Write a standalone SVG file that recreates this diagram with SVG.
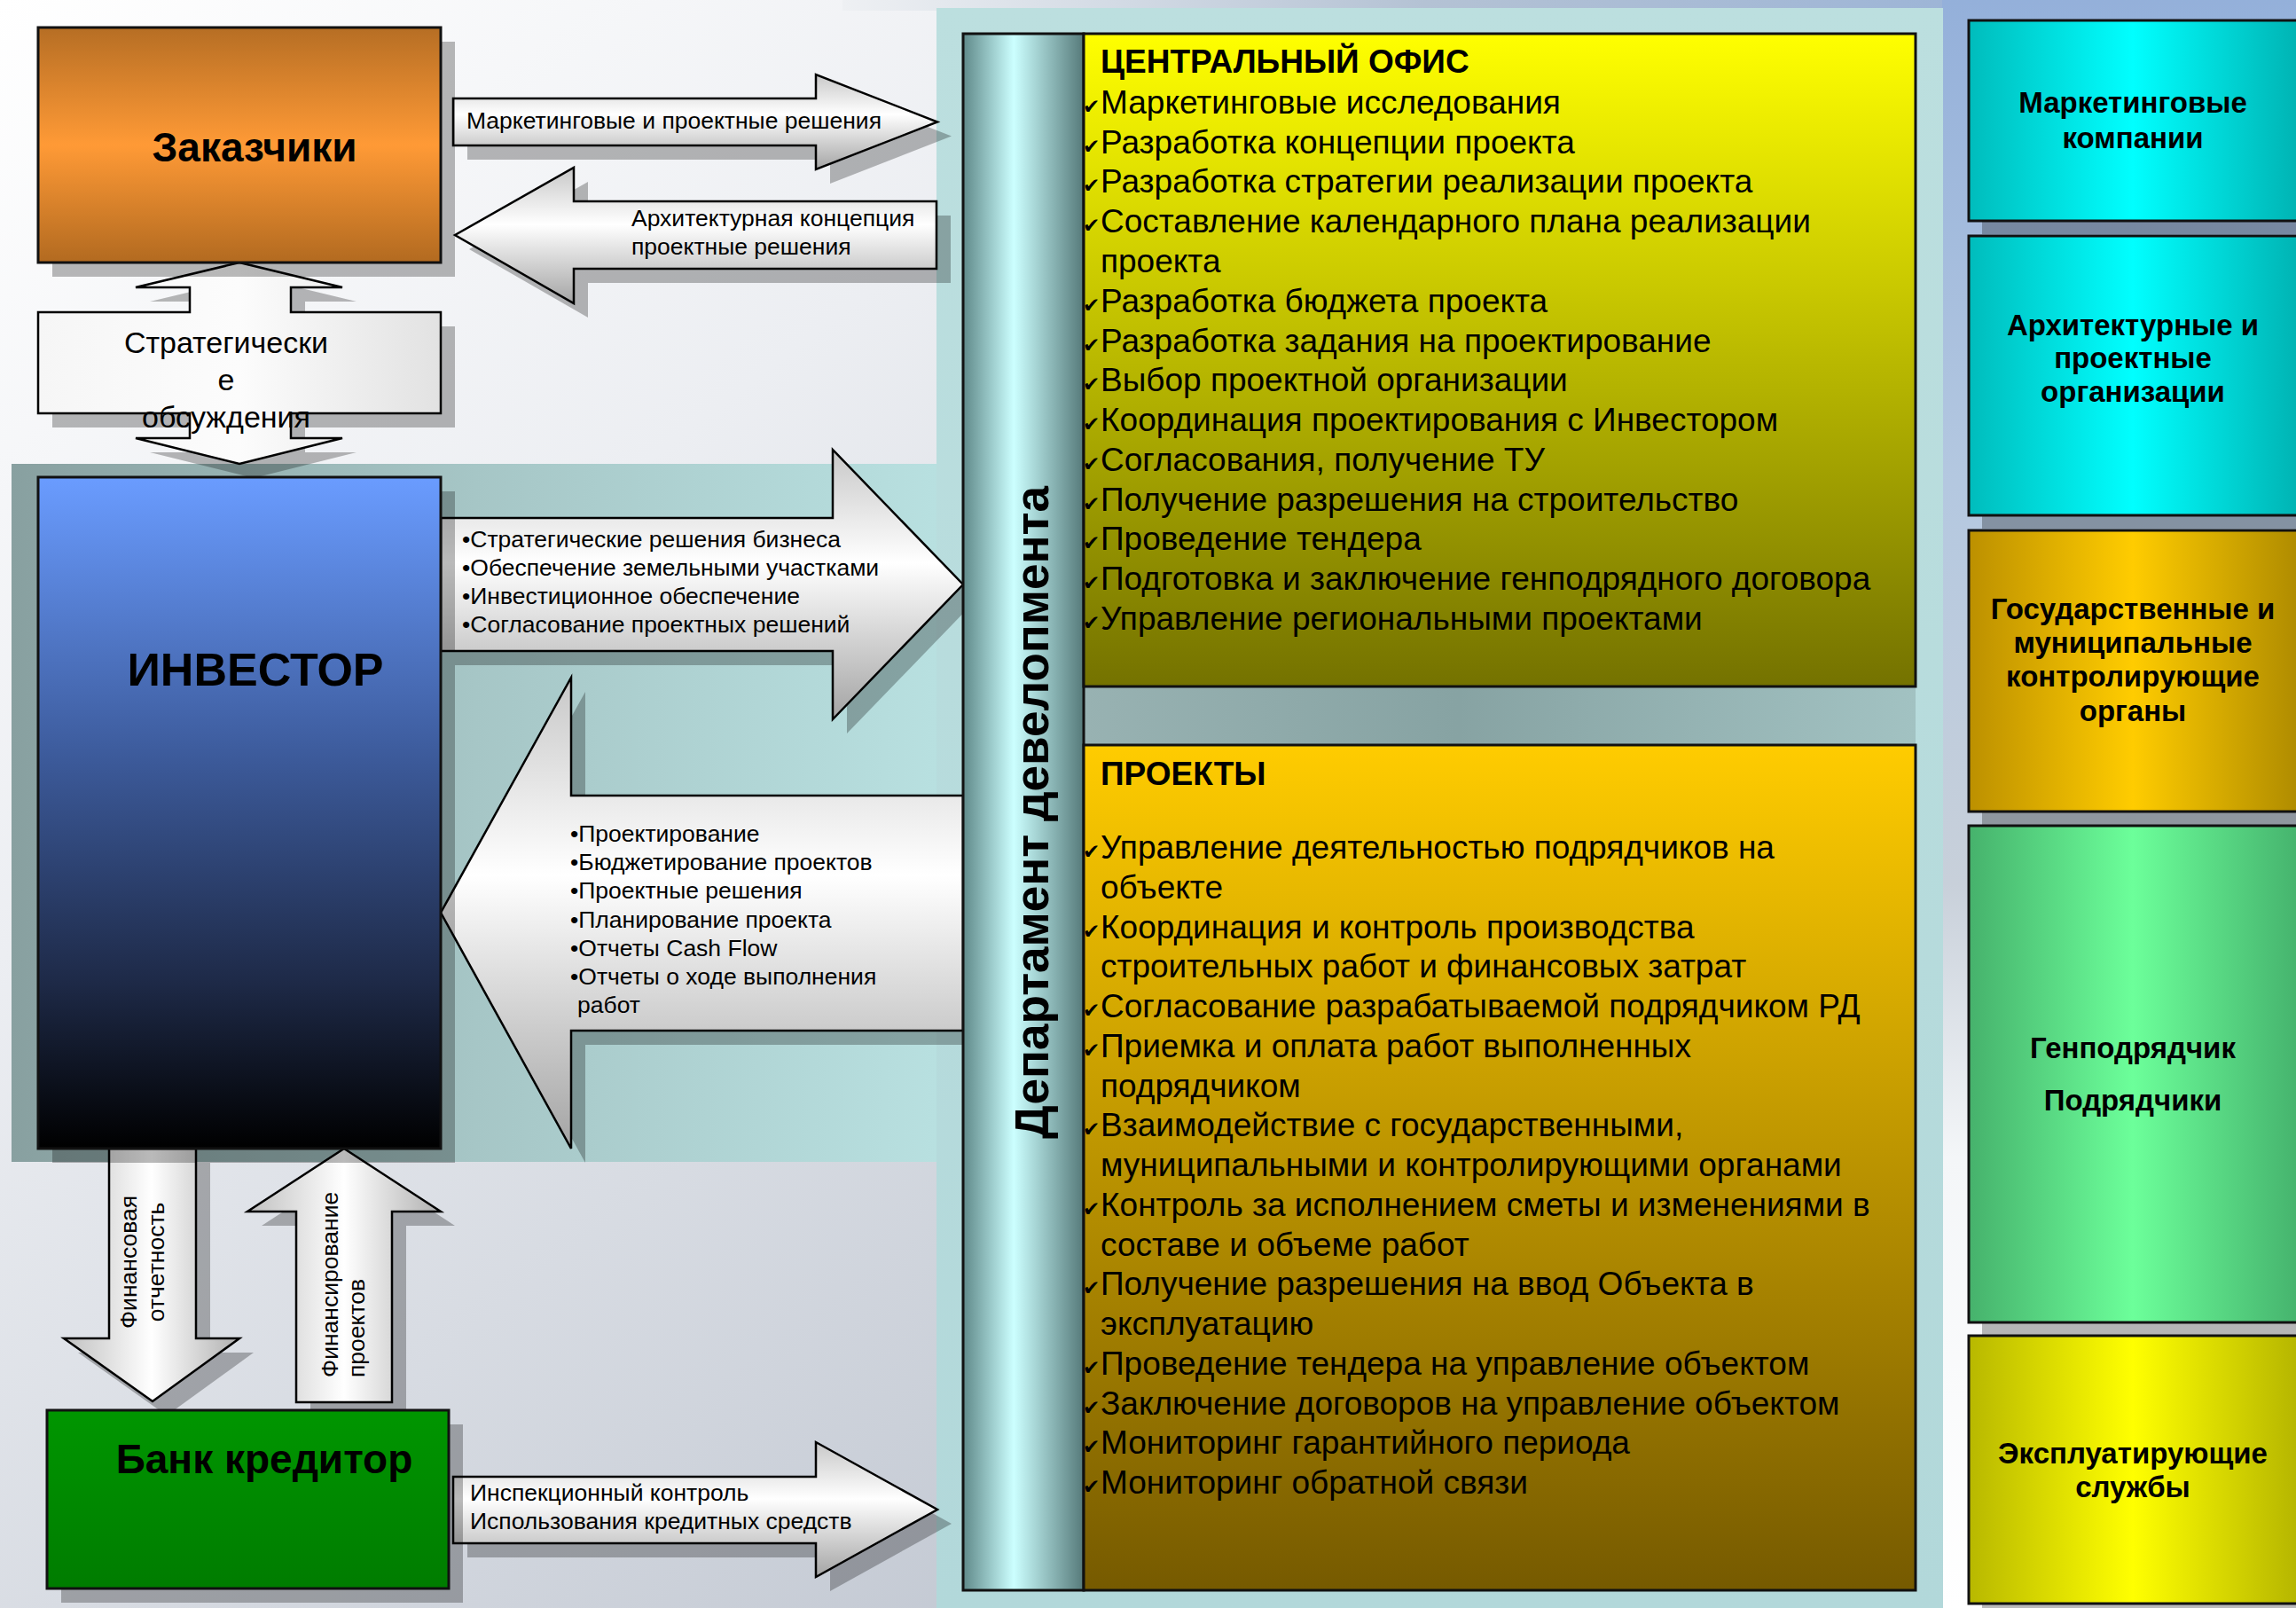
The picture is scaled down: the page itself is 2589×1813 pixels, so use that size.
<svg xmlns="http://www.w3.org/2000/svg" width="2589" height="1813" viewBox="0 0 2589 1813">
<defs>
<style>
text{font-family:"Liberation Sans",Arial,sans-serif;fill:#000}
.lbl{font-size:26.5px}
.item{font-size:37px}
.hdr{font-size:37px;font-weight:bold}
.rb{font-size:33px;font-weight:bold;text-anchor:middle}
.chk{font-family:"DejaVu Sans",sans-serif;font-size:23px}
.sh{fill:#000;opacity:0.27}
.ar{stroke:#000;stroke-width:2.5;stroke-linejoin:miter}
.bx{stroke:#111;stroke-width:3}
.big{font-weight:bold;text-anchor:middle}
</style>
<linearGradient id="gBg" gradientUnits="userSpaceOnUse" x1="0" y1="0" x2="1300" y2="1700">
<stop offset="0" stop-color="#ffffff"/><stop offset="0.4" stop-color="#eceef2"/><stop offset="1" stop-color="#c3c9d3"/>
</linearGradient>
<linearGradient id="gRight" x1="0" y1="0" x2="0" y2="1">
<stop offset="0" stop-color="#94b0da"/><stop offset="0.3" stop-color="#b4c8e0"/><stop offset="0.55" stop-color="#c8d0da"/><stop offset="0.72" stop-color="#f4f6f8"/><stop offset="1" stop-color="#ffffff"/>
</linearGradient>
<linearGradient id="gTop" x1="0" y1="0" x2="1" y2="0">
<stop offset="0" stop-color="#eef0f3"/><stop offset="0.4" stop-color="#b4c2d4"/><stop offset="1" stop-color="#8eacd8"/>
</linearGradient>
<linearGradient id="gBand" x1="0" y1="0" x2="1" y2="0">
<stop offset="0" stop-color="#88a0a0"/><stop offset="0.5" stop-color="#a6c6c6"/><stop offset="1" stop-color="#b8e0e0"/>
</linearGradient>
<linearGradient id="gPanel" x1="0" y1="0" x2="0" y2="1">
<stop offset="0" stop-color="#bcdfdf"/><stop offset="1" stop-color="#b2d8da"/>
</linearGradient>
<linearGradient id="gGap" x1="0" y1="0" x2="1" y2="0">
<stop offset="0" stop-color="#98b2b2"/><stop offset="0.45" stop-color="#87a3a3"/><stop offset="1" stop-color="#a2c2c2"/>
</linearGradient>
<linearGradient id="gBar" x1="0" y1="0" x2="1" y2="0">
<stop offset="0" stop-color="#5f8989"/><stop offset="0.42" stop-color="#ccffff"/><stop offset="1" stop-color="#567a7a"/>
</linearGradient>
<linearGradient id="gOffice" x1="0" y1="0" x2="0" y2="1">
<stop offset="0" stop-color="#ffff00"/><stop offset="1" stop-color="#747200"/>
</linearGradient>
<linearGradient id="gProj" x1="0" y1="0" x2="0" y2="1">
<stop offset="0" stop-color="#ffcc00"/><stop offset="1" stop-color="#765a00"/>
</linearGradient>
<linearGradient id="gOrange" x1="0" y1="0" x2="0" y2="1">
<stop offset="0" stop-color="#b66e24"/><stop offset="0.5" stop-color="#ff9a36"/><stop offset="1" stop-color="#b26a20"/>
</linearGradient>
<linearGradient id="gInv" x1="0" y1="0" x2="0" y2="1">
<stop offset="0" stop-color="#6a9cff"/><stop offset="0.42" stop-color="#3c5a9a"/><stop offset="0.75" stop-color="#1e2a48"/><stop offset="1" stop-color="#000000"/>
</linearGradient>
<linearGradient id="gBank" x1="0" y1="0" x2="0" y2="1">
<stop offset="0" stop-color="#009600"/><stop offset="1" stop-color="#007c00"/>
</linearGradient>
<linearGradient id="gArH" x1="0" y1="0" x2="0" y2="1">
<stop offset="0" stop-color="#c8c8c8"/><stop offset="0.42" stop-color="#ffffff"/><stop offset="1" stop-color="#a4a4a4"/>
</linearGradient>
<linearGradient id="gArV" x1="0" y1="0" x2="1" y2="0">
<stop offset="0" stop-color="#c0c0c0"/><stop offset="0.5" stop-color="#ffffff"/><stop offset="1" stop-color="#b0b0b0"/>
</linearGradient>
<linearGradient id="gStrat" x1="0" y1="0" x2="1" y2="0">
<stop offset="0" stop-color="#f6f6f6"/><stop offset="0.5" stop-color="#fcfcfc"/><stop offset="1" stop-color="#e2e2e2"/>
</linearGradient>
<linearGradient id="gCyan" gradientUnits="userSpaceOnUse" x1="2220" y1="0" x2="2590" y2="0">
<stop offset="0" stop-color="#00bcbc"/><stop offset="0.5" stop-color="#00ffff"/><stop offset="1" stop-color="#00b4b4"/>
</linearGradient>
<linearGradient id="gGoldR" gradientUnits="userSpaceOnUse" x1="2220" y1="0" x2="2590" y2="0">
<stop offset="0" stop-color="#bc9000"/><stop offset="0.5" stop-color="#ffcc00"/><stop offset="1" stop-color="#b08c00"/>
</linearGradient>
<linearGradient id="gGreenR" gradientUnits="userSpaceOnUse" x1="2220" y1="0" x2="2590" y2="0">
<stop offset="0" stop-color="#46b26c"/><stop offset="0.5" stop-color="#6cff9a"/><stop offset="1" stop-color="#46b46e"/>
</linearGradient>
<linearGradient id="gYelR" gradientUnits="userSpaceOnUse" x1="2220" y1="0" x2="2590" y2="0">
<stop offset="0" stop-color="#b8b800"/><stop offset="0.5" stop-color="#ffff00"/><stop offset="1" stop-color="#b6b600"/>
</linearGradient>
</defs>

<g id="background">
<rect x="0" y="0" width="2589" height="1813" fill="url(#gBg)"/>
<rect x="950" y="0" width="1639" height="12" fill="url(#gTop)"/>
<rect x="2190" y="0" width="399" height="1813" fill="url(#gRight)"/>
<rect x="13" y="523" width="1044" height="787" fill="url(#gBand)"/>
<rect x="1056" y="9" width="1135" height="1804" fill="url(#gPanel)"/>
<rect x="1222" y="774" width="938" height="66" fill="url(#gGap)"/>
</g>

<g id="connectors">
<g id="arrow-marketing">
<polygon class="sh" points="527,127 936,127 936,100 1073,153.5 936,207 936,180 527,180"/>
<polygon class="ar" fill="url(#gArH)" points="511,111 920,111 920,84 1057,137.5 920,191 920,164 511,164"/>
<text class="lbl" x="526" y="145">Маркетинговые и проектные решения</text>
</g>
<g id="arrow-architecture">
<polygon class="sh" points="529,281 663,205 663,243 1072,243 1072,319 663,319 663,358"/>
<polygon class="ar" fill="url(#gArH)" points="513,265 647,189 647,227 1056,227 1056,303 647,303 647,342"/>
<text class="lbl" x="712" y="255">Архитектурная концепция</text>
<text class="lbl" x="712" y="287">проектные решения</text>
</g>
<g id="arrow-strategic">
<polygon class="sh" points="286,312 402,340 344,340 344,368 513,368 513,482 344,482 344,510 402,510 286,539 169,510 230,510 230,482 59,482 59,368 230,368 230,340 169,340"/>
<polygon class="ar" fill="url(#gStrat)" points="270,296 386,324 328,324 328,352 497,352 497,466 328,466 328,494 386,494 270,523 153,494 214,494 214,466 43,466 43,352 214,352 214,324 153,324"/>
<text x="255" y="398" style="font-size:34px;text-anchor:middle">Стратегически</text>
<text x="255" y="440" style="font-size:34px;text-anchor:middle">е</text>
<text x="255" y="482" style="font-size:34px;text-anchor:middle">обсуждения</text>
</g>
<g id="arrow-investor-out">
<polygon class="sh" points="513,600 955,600 955,523 1102,675 955,827 955,750 513,750"/>
<polygon class="ar" fill="url(#gArH)" points="497,584 939,584 939,507 1086,659 939,811 939,734 497,734"/>
<text class="lbl" x="521" y="617">•Стратегические решения бизнеса</text>
<text class="lbl" x="521" y="649">•Обеспечение земельными участками</text>
<text class="lbl" x="521" y="681">•Инвестиционное обеспечение</text>
<text class="lbl" x="521" y="713">•Согласование проектных решений</text>
</g>
<g id="arrow-investor-in">
<polygon class="sh" points="513,1045 660,780 660,913 1086,913 1086,1178 660,1178 660,1311"/>
<polygon class="ar" fill="url(#gArH)" points="497,1029 644,764 644,897 1086,897 1086,1162 644,1162 644,1295"/>
<text class="lbl" x="643" y="949">•Проектирование</text>
<text class="lbl" x="643" y="981">•Бюджетирование проектов</text>
<text class="lbl" x="643" y="1013">•Проектные решения</text>
<text class="lbl" x="643" y="1046">•Планирование проекта</text>
<text class="lbl" x="643" y="1078">•Отчеты Cash Flow</text>
<text class="lbl" x="643" y="1110">•Отчеты о ходе выполнения</text>
<text class="lbl" x="651" y="1142">работ</text>
</g>
<g id="arrow-fin-report">
<polygon class="sh" points="139,1311 237,1311 237,1525 286,1525 188,1596 88,1525 139,1525"/>
<polygon class="ar" fill="url(#gArV)" points="123,1295 221,1295 221,1509 270,1509 172,1580 72,1509 123,1509"/>
<text class="lbl" transform="translate(154,1423) rotate(-90)" text-anchor="middle">Финансовая</text>
<text class="lbl" transform="translate(185,1423) rotate(-90)" text-anchor="middle">отчетность</text>
</g>
<g id="arrow-financing">
<polygon class="sh" points="404,1311 513,1382 458,1382 458,1597 350,1597 350,1382 295,1382"/>
<polygon class="ar" fill="url(#gArV)" points="388,1295 497,1366 442,1366 442,1581 334,1581 334,1366 279,1366"/>
<text class="lbl" transform="translate(381,1553) rotate(-90)">Финансирование</text>
<text class="lbl" transform="translate(411,1553) rotate(-90)">проектов</text>
</g>
<g id="arrow-inspection">
<polygon class="sh" points="527,1681 936,1681 936,1642 1073,1718 936,1794 936,1756 527,1756"/>
<polygon class="ar" fill="url(#gArH)" points="511,1665 920,1665 920,1626 1057,1702 920,1778 920,1740 511,1740"/>
<text class="lbl" x="530" y="1692">Инспекционный контроль</text>
<text class="lbl" x="530" y="1724">Использования кредитных средств</text>
</g>
</g>

<g id="node-customers">
<rect class="sh" x="59" y="47" width="454" height="265"/>
<rect class="bx" x="43" y="31" width="454" height="265" fill="url(#gOrange)"/>
<text class="big" x="287" y="182" style="font-size:46px">Заказчики</text>
</g>

<g id="node-investor">
<rect class="sh" x="59" y="554" width="454" height="757"/>
<rect class="bx" x="43" y="538" width="454" height="757" fill="url(#gInv)"/>
<text class="big" x="288" y="773" style="font-size:52px">ИНВЕСТОР</text>
</g>

<g id="node-bank">
<rect class="sh" x="69" y="1606" width="453" height="201"/>
<rect class="bx" x="53" y="1590" width="453" height="201" fill="url(#gBank)"/>
<text class="big" x="298" y="1661" style="font-size:46px">Банк кредитор</text>
</g>

<g id="node-department">
<rect class="bx" x="1086" y="38" width="136" height="1755" fill="url(#gBar)"/>
<text class="big" transform="translate(1182,916) rotate(-90)" style="font-size:53px">Департамент девелопмента</text>
</g>

<g id="node-central-office">
<rect class="bx" x="1222" y="38" width="938" height="736" fill="url(#gOffice)"/>
<text class="hdr" x="1241" y="82">ЦЕНТРАЛЬНЫЙ ОФИС</text>
<g class="chk-col">
<text class="chk" x="1221" y="128">✔</text>
<text class="chk" x="1221" y="173">✔</text>
<text class="chk" x="1221" y="217">✔</text>
<text class="chk" x="1221" y="262">✔</text>
<text class="chk" x="1221" y="352">✔</text>
<text class="chk" x="1221" y="397">✔</text>
<text class="chk" x="1221" y="441">✔</text>
<text class="chk" x="1221" y="486">✔</text>
<text class="chk" x="1221" y="531">✔</text>
<text class="chk" x="1221" y="576">✔</text>
<text class="chk" x="1221" y="620">✔</text>
<text class="chk" x="1221" y="665">✔</text>
<text class="chk" x="1221" y="710">✔</text>
</g>
<text class="item" x="1241" y="128">Маркетинговые исследования</text>
<text class="item" x="1241" y="173">Разработка концепции проекта</text>
<text class="item" x="1241" y="217">Разработка стратегии реализации проекта</text>
<text class="item" x="1241" y="262">Составление календарного плана реализации</text>
<text class="item" x="1241" y="307">проекта</text>
<text class="item" x="1241" y="352">Разработка бюджета проекта</text>
<text class="item" x="1241" y="397">Разработка задания на проектирование</text>
<text class="item" x="1241" y="441">Выбор проектной организации</text>
<text class="item" x="1241" y="486">Координация проектирования с Инвестором</text>
<text class="item" x="1241" y="531">Согласования, получение ТУ</text>
<text class="item" x="1241" y="576">Получение разрешения на строительство</text>
<text class="item" x="1241" y="620">Проведение тендера</text>
<text class="item" x="1241" y="665">Подготовка и заключение генподрядного договора</text>
<text class="item" x="1241" y="710">Управление региональными проектами</text>
</g>

<g id="node-projects">
<rect class="bx" x="1222" y="840" width="938" height="953" fill="url(#gProj)"/>
<text class="hdr" x="1241" y="885">ПРОЕКТЫ</text>
<g class="chk-col">
<text class="chk" x="1221" y="968">✔</text>
<text class="chk" x="1221" y="1058">✔</text>
<text class="chk" x="1221" y="1147">✔</text>
<text class="chk" x="1221" y="1192">✔</text>
<text class="chk" x="1221" y="1281">✔</text>
<text class="chk" x="1221" y="1371">✔</text>
<text class="chk" x="1221" y="1460">✔</text>
<text class="chk" x="1221" y="1550">✔</text>
<text class="chk" x="1221" y="1595">✔</text>
<text class="chk" x="1221" y="1639">✔</text>
<text class="chk" x="1221" y="1684">✔</text>
</g>
<text class="item" x="1241" y="968">Управление деятельностью подрядчиков на</text>
<text class="item" x="1241" y="1013">объекте</text>
<text class="item" x="1241" y="1058">Координация и контроль производства</text>
<text class="item" x="1241" y="1102">строительных работ и финансовых затрат</text>
<text class="item" x="1241" y="1147">Согласование разрабатываемой подрядчиком РД</text>
<text class="item" x="1241" y="1192">Приемка и оплата работ выполненных</text>
<text class="item" x="1241" y="1237">подрядчиком</text>
<text class="item" x="1241" y="1281">Взаимодействие с государственными,</text>
<text class="item" x="1241" y="1326">муниципальными и контролирующими органами</text>
<text class="item" x="1241" y="1371">Контроль за исполнением сметы и изменениями в</text>
<text class="item" x="1241" y="1416">составе и объеме работ</text>
<text class="item" x="1241" y="1460">Получение разрешения на ввод Объекта в</text>
<text class="item" x="1241" y="1505">эксплуатацию</text>
<text class="item" x="1241" y="1550">Проведение тендера на управление объектом</text>
<text class="item" x="1241" y="1595">Заключение договоров на управление объектом</text>
<text class="item" x="1241" y="1639">Мониторинг гарантийного периода</text>
<text class="item" x="1241" y="1684">Мониторинг обратной связи</text>
</g>

<g id="node-marketing-companies">
<rect class="sh" x="2235" y="38" width="380" height="226"/>
<rect class="bx" x="2220" y="23" width="380" height="226" fill="url(#gCyan)"/>
<text class="rb" x="2405" y="127">Маркетинговые</text>
<text class="rb" x="2405" y="167">компании</text>
</g>
<g id="node-architects">
<rect class="sh" x="2235" y="281" width="380" height="315"/>
<rect class="bx" x="2220" y="266" width="380" height="315" fill="url(#gCyan)"/>
<text class="rb" x="2405" y="378">Архитектурные и</text>
<text class="rb" x="2405" y="415">проектные</text>
<text class="rb" x="2405" y="453">организации</text>
</g>
<g id="node-authorities">
<rect class="sh" x="2235" y="613" width="380" height="317"/>
<rect class="bx" x="2220" y="598" width="380" height="317" fill="url(#gGoldR)"/>
<text class="rb" x="2405" y="698">Государственные и</text>
<text class="rb" x="2405" y="736">муниципальные</text>
<text class="rb" x="2405" y="774">контролирующие</text>
<text class="rb" x="2405" y="813">органы</text>
</g>
<g id="node-contractors">
<rect class="sh" x="2235" y="946" width="380" height="560"/>
<rect class="bx" x="2220" y="931" width="380" height="560" fill="url(#gGreenR)"/>
<text class="rb" x="2405" y="1193">Генподрядчик</text>
<text class="rb" x="2405" y="1252">Подрядчики</text>
</g>
<g id="node-operators">
<rect class="sh" x="2235" y="1521" width="380" height="302"/>
<rect class="bx" x="2220" y="1506" width="380" height="302" fill="url(#gYelR)"/>
<text class="rb" x="2405" y="1650">Эксплуатирующие</text>
<text class="rb" x="2405" y="1688">службы</text>
</g>
</svg>
